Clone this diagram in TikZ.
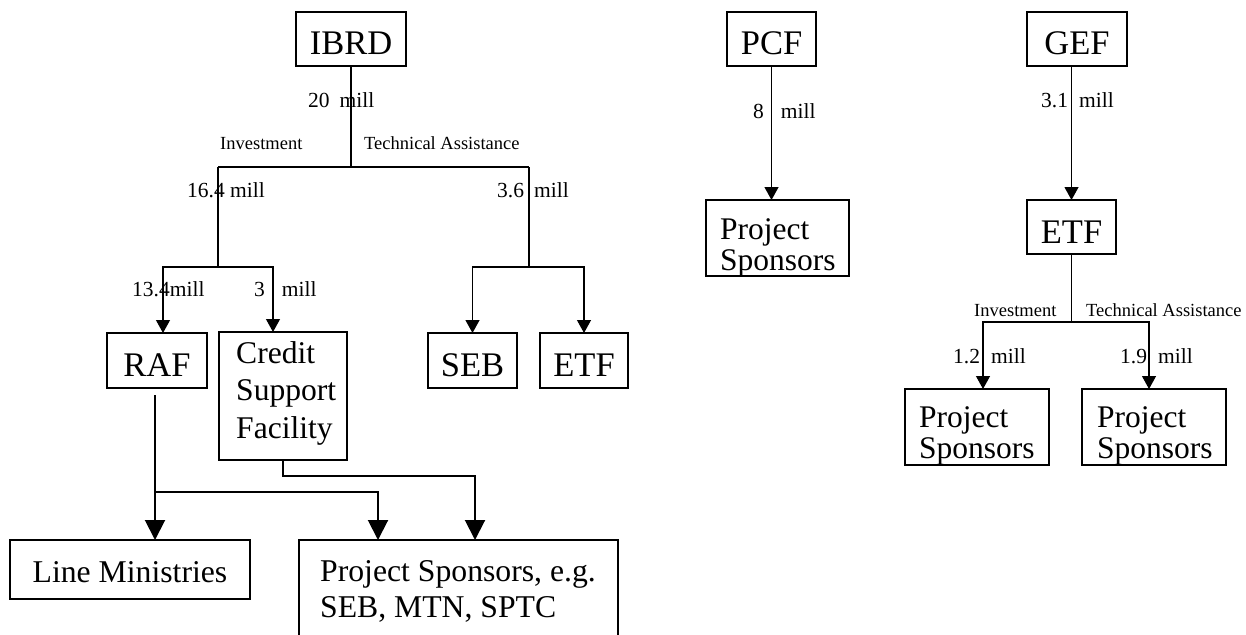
\documentclass[tikz,border=0pt]{standalone}
\usepackage{fontspec}
\setmainfont{Liberation Serif}
\usetikzlibrary{arrows.meta}
\tikzset{
  box/.style={draw, line width=1.2pt, inner sep=0pt, outer sep=0pt, font=\fontsize{34.5}{36}\selectfont, text height=32pt, text depth=0pt},
  boxb/.style={draw, line width=2pt, inner sep=0pt, outer sep=0pt},
  ln/.style={line width=1.2pt},
  lnb/.style={line width=2pt},
  arrS/.style={line width=1.2pt, -{Triangle[length=13pt,width=14pt]}},
  arrB/.style={line width=2pt, -{Triangle[length=20pt,width=20pt]}},
  money/.style={anchor=base west, inner sep=0pt, font=\fontsize{21.5}{22}\selectfont},
  kind/.style={anchor=base west, inner sep=0pt, font=\fontsize{18.5}{19}\selectfont},
  multi/.style={anchor=north west, inner sep=0pt, align=left}
}
\begin{document}
\begin{tikzpicture}[x=1pt, y=-1pt]
\useasboundingbox (0,0) rectangle (1246,634);
\clip (0,0) rectangle (1246,634);
% ---------- boxes ----------
\node[box, minimum width=110pt, minimum height=54pt] (IBRD) at (351,39) {IBRD};
\node[box, minimum width=100pt, minimum height=55pt] (RAF) at (157,360.5) {RAF};
\node[box, minimum width=128pt, minimum height=128pt] (CSF) at (283,396) {};
\node[multi, font=\fontsize{31.6}{37.5}\selectfont] (CSFt) at (236,341) {Credit\\Support\\Facility};
\node[box, minimum width=89pt, minimum height=55pt] (SEB) at (472.5,360.5) {SEB};
\node[box, minimum width=88pt, minimum height=55pt] (ETFa) at (584,360.5) {ETF};
\node[boxb, minimum width=240pt, minimum height=59pt, font=\fontsize{31.7}{36}\selectfont, text height=25pt, text depth=0pt] (LM) at (130,569.5) {Line Ministries};
\node[boxb, minimum width=319pt, minimum height=140pt] (PSeg) at (458.5,610) {};
\node[multi, font=\fontsize{31.7}{36}\selectfont] (PSegt) at (320,560) {Project Sponsors, e.g.\\SEB, MTN, SPTC};

\node[box, minimum width=89pt, minimum height=54pt] (PCF) at (771.5,39) {PCF};
\node[box, minimum width=143pt, minimum height=76pt] (PS0) at (777.5,238) {};
\node[multi, font=\fontsize{31.5}{31}\selectfont] (PS0t) at (720,218) {Project\\Sponsors};

\node[box, minimum width=100pt, minimum height=54pt] (GEF) at (1077,39) {GEF};
\node[box, minimum width=89pt, minimum height=54pt] (ETFb) at (1071.5,227) {ETF};
\node[box, minimum width=144pt, minimum height=76pt] (PS1) at (977,427) {};
\node[multi, font=\fontsize{31.5}{31}\selectfont] (PS1t) at (919,406) {Project\\Sponsors};
\node[box, minimum width=144pt, minimum height=76pt] (PS2) at (1154,427) {};
\node[multi, font=\fontsize{31.5}{31}\selectfont] (PS2t) at (1097,406) {Project\\Sponsors};

% ---------- junctions ----------
\coordinate (j0) at (351,167);
\coordinate (jL) at (218,167);
\coordinate (jR) at (529,167);
\coordinate (jL2) at (218,267);
\coordinate (jR2) at (529,267);
\coordinate (rafout) at (155,395);
\coordinate (jB) at (155,492);
\coordinate (k0) at (1071.5,322);

% ---------- IBRD tree ----------
\draw[ln] (IBRD.south) -- (j0);
\draw[ln] (jL) -- (jR);
\draw[ln] (jL) -- (jL2);
\draw[ln] (jR) -- (jR2);
\draw[arrS] (jL2) -| ([xshift=6pt]RAF.north);
\draw[arrS] (jL2) -| ([xshift=-10pt]CSF.north);
\draw[arrS] (jR2) -| (SEB.north);
\draw[arrS] (jR2) -| (ETFa.north);

\draw[lnb] (rafout) -- (jB);
\draw[arrB] (jB) -- (LM.north -| jB);
\draw[arrB] (jB) -| ([xshift=-80.5pt]PSeg.north);
\draw[arrB] (CSF.south) -- ++(0,16) -| ([xshift=16.5pt]PSeg.north);

% ---------- PCF / GEF ----------
\draw[arrS] (PCF.south) -- (PCF.south |- PS0.north);
\draw[arrS] ([xshift=-5.5pt]GEF.south) -- (ETFb.north);
\draw[ln] (ETFb.south) -- (k0);
\draw[arrS] (k0) -| ([xshift=6pt]PS1.north);
\draw[arrS] (k0) -| ([xshift=-5pt]PS2.north);

% ---------- labels ----------
\node[money] (m20) at (308,107) {20\hspace{10pt}mill};
\node[kind] (inv1) at (220,149) {Investment};
\node[kind] (ta1) at (364,149) {Technical Assistance};
\node[money] (m164) at (187,197) {16.4 mill};
\node[money] (m36) at (497,197) {3.6\hspace{10pt}mill};
\node[money] (m134) at (132,296) {13.4mill};
\node[money] (m3) at (254,296) {3\hspace{17pt}mill};
\node[money] (m8) at (753,118) {8\hspace{17pt}mill};
\node[money] (m31) at (1041,107) {3.1\hspace{11pt}mill};
\node[kind] (inv2) at (974,316) {Investment};
\node[kind] (ta2) at (1086,316) {Technical Assistance};
\node[money] (m12) at (953,363) {1.2\hspace{11pt}mill};
\node[money] (m19) at (1120,363) {1.9\hspace{11pt}mill};
\end{tikzpicture}
\end{document}
